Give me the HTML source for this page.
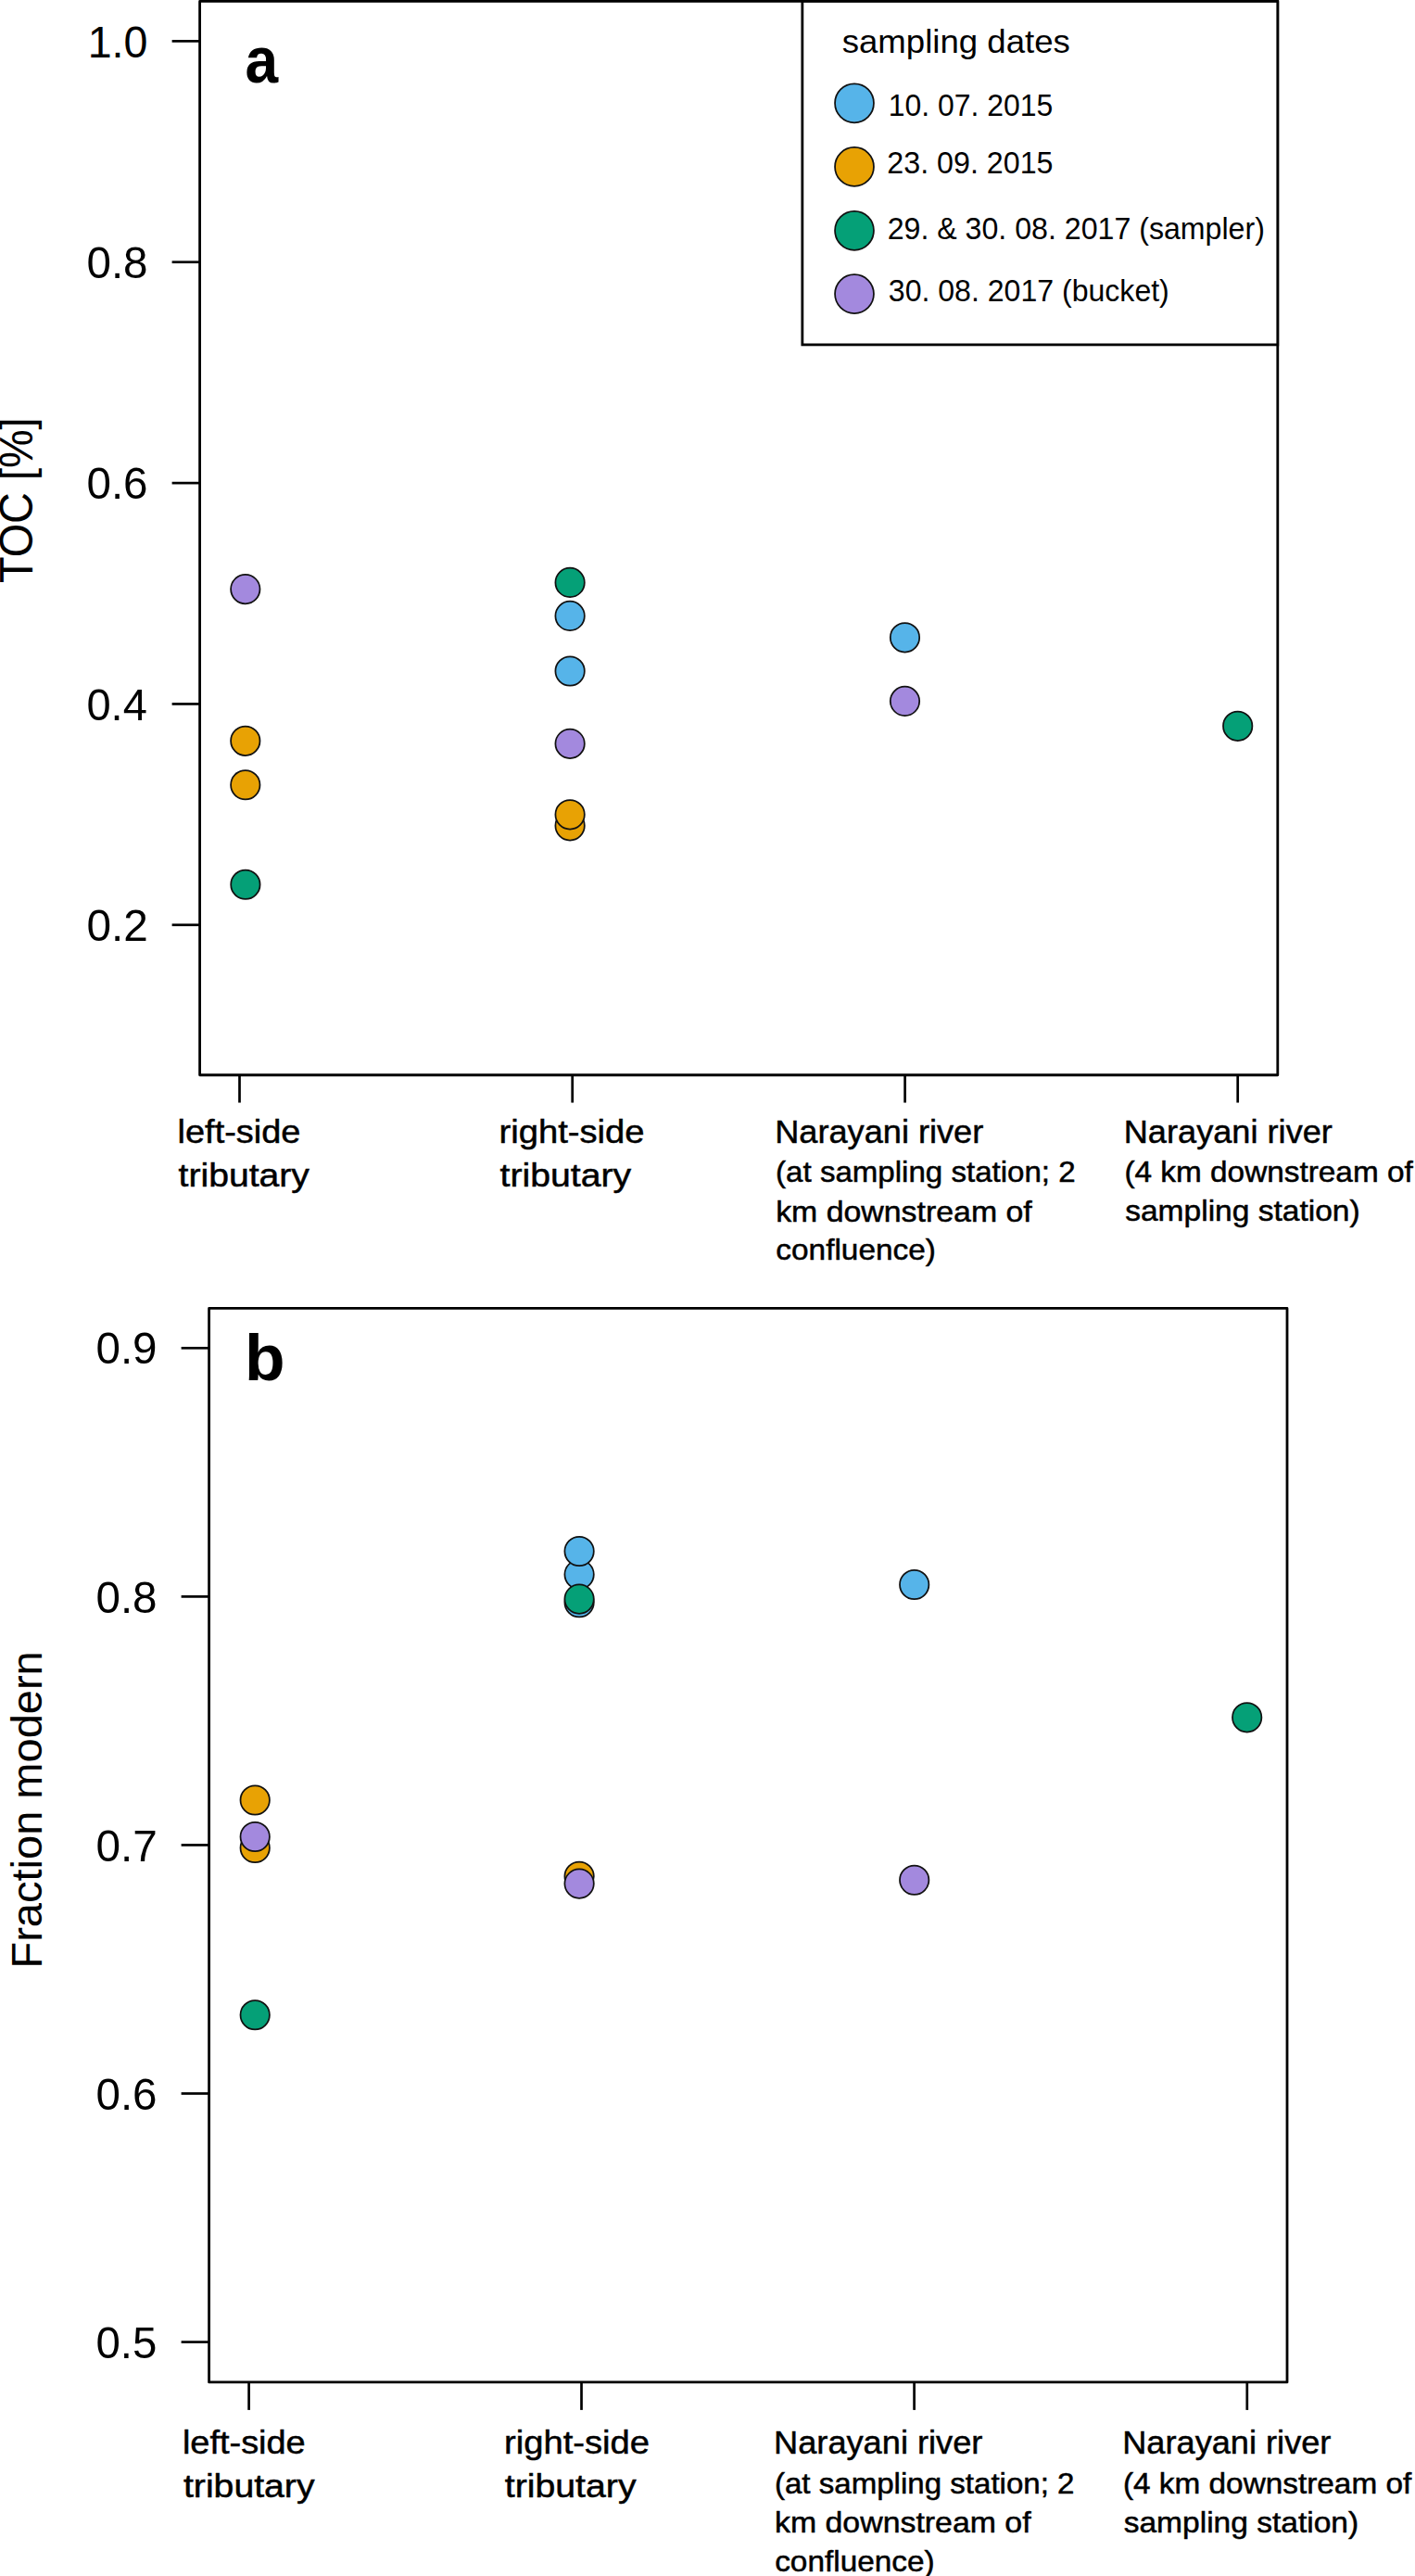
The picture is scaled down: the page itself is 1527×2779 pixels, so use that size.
<!DOCTYPE html>
<html><head><meta charset="utf-8"><title>figure</title>
<style>
html,body{margin:0;padding:0;background:#fff;overflow:hidden;}
svg{display:block;font-family:"Liberation Sans",sans-serif;fill:#000;}
</style></head><body>
<svg width="1527" height="2779" viewBox="0 0 1527 2779">
<rect x="0" y="0" width="1527" height="2779" fill="#fff"/>
<rect x="215.6" y="1.45" width="1163.20" height="1158.30" fill="none" stroke="#000" stroke-width="2.8" stroke-linejoin="round"/>
<line x1="185.60" y1="44.40" x2="215.60" y2="44.40" stroke="#000" stroke-width="2.7"/>
<text x="94.65" y="61.50" font-size="49" textLength="64.70" lengthAdjust="spacingAndGlyphs">1.0</text>
<line x1="185.60" y1="282.75" x2="215.60" y2="282.75" stroke="#000" stroke-width="2.7"/>
<text x="93.45" y="299.85" font-size="49" textLength="66.15" lengthAdjust="spacingAndGlyphs">0.8</text>
<line x1="185.60" y1="521.10" x2="215.60" y2="521.10" stroke="#000" stroke-width="2.7"/>
<text x="93.45" y="538.20" font-size="49" textLength="66.15" lengthAdjust="spacingAndGlyphs">0.6</text>
<line x1="185.60" y1="759.45" x2="215.60" y2="759.45" stroke="#000" stroke-width="2.7"/>
<text x="93.45" y="776.55" font-size="49" textLength="65.40" lengthAdjust="spacingAndGlyphs">0.4</text>
<line x1="185.60" y1="997.80" x2="215.60" y2="997.80" stroke="#000" stroke-width="2.7"/>
<text x="93.45" y="1014.90" font-size="49" textLength="66.40" lengthAdjust="spacingAndGlyphs">0.2</text>
<line x1="258.50" y1="1159.75" x2="258.50" y2="1189.55" stroke="#000" stroke-width="2.7"/>
<line x1="617.70" y1="1159.75" x2="617.70" y2="1189.55" stroke="#000" stroke-width="2.7"/>
<line x1="976.60" y1="1159.75" x2="976.60" y2="1189.55" stroke="#000" stroke-width="2.7"/>
<line x1="1335.70" y1="1159.75" x2="1335.70" y2="1189.55" stroke="#000" stroke-width="2.7"/>
<text x="264.45" y="88.70" font-size="70.5" font-weight="bold" textLength="35.65" lengthAdjust="spacingAndGlyphs">a</text>
<rect x="865.85" y="1.45" width="512.95" height="370.45" fill="#fff" stroke="#000" stroke-width="2.8"/>
<text x="908.70" y="57.40" font-size="35.8" textLength="246.20" lengthAdjust="spacingAndGlyphs">sampling dates</text>
<circle cx="922.00" cy="111.30" r="20.95" fill="#56B4E9" stroke="#111" stroke-width="1.75"/>
<text x="958.80" y="124.50" font-size="32.3" textLength="177.45" lengthAdjust="spacingAndGlyphs">10. 07. 2015</text>
<circle cx="922.00" cy="179.90" r="20.95" fill="#E8A204" stroke="#111" stroke-width="1.75"/>
<text x="957.35" y="186.60" font-size="32.3" textLength="179.15" lengthAdjust="spacingAndGlyphs">23. 09. 2015</text>
<circle cx="922.00" cy="248.80" r="20.95" fill="#05A077" stroke="#111" stroke-width="1.75"/>
<text x="957.70" y="258.30" font-size="32.3" textLength="407.15" lengthAdjust="spacingAndGlyphs">29. &amp; 30. 08. 2017 (sampler)</text>
<circle cx="922.00" cy="317.10" r="20.95" fill="#A389DE" stroke="#111" stroke-width="1.75"/>
<text x="958.80" y="325.30" font-size="32.3" textLength="303.00" lengthAdjust="spacingAndGlyphs">30. 08. 2017 (bucket)</text>
<circle cx="264.90" cy="954.20" r="15.7" fill="#05A077" stroke="#111" stroke-width="1.75"/>
<circle cx="264.80" cy="846.70" r="15.7" fill="#E8A204" stroke="#111" stroke-width="1.75"/>
<circle cx="264.80" cy="799.30" r="15.7" fill="#E8A204" stroke="#111" stroke-width="1.75"/>
<circle cx="264.80" cy="635.60" r="15.7" fill="#A389DE" stroke="#111" stroke-width="1.75"/>
<circle cx="615.10" cy="890.80" r="15.7" fill="#E8A204" stroke="#111" stroke-width="1.75"/>
<circle cx="615.10" cy="878.80" r="15.7" fill="#E8A204" stroke="#111" stroke-width="1.75"/>
<circle cx="615.10" cy="802.35" r="15.7" fill="#A389DE" stroke="#111" stroke-width="1.75"/>
<circle cx="615.10" cy="724.00" r="15.7" fill="#56B4E9" stroke="#111" stroke-width="1.75"/>
<circle cx="615.10" cy="664.40" r="15.7" fill="#56B4E9" stroke="#111" stroke-width="1.75"/>
<circle cx="615.10" cy="628.40" r="15.7" fill="#05A077" stroke="#111" stroke-width="1.75"/>
<circle cx="976.50" cy="687.80" r="15.7" fill="#56B4E9" stroke="#111" stroke-width="1.75"/>
<circle cx="976.50" cy="756.40" r="15.7" fill="#A389DE" stroke="#111" stroke-width="1.75"/>
<circle cx="1335.70" cy="783.30" r="15.7" fill="#05A077" stroke="#111" stroke-width="1.75"/>
<text transform="translate(34.8,629.00) rotate(-90)" font-size="49.2" textLength="178.50" lengthAdjust="spacingAndGlyphs">TOC [%]</text>
<text x="191.60" y="1233.10" font-size="35.5" textLength="132.75" lengthAdjust="spacingAndGlyphs" stroke="#000" stroke-width="0.5">left-side</text>
<text x="192.60" y="1280.00" font-size="35.5" textLength="141.35" lengthAdjust="spacingAndGlyphs" stroke="#000" stroke-width="0.5">tributary</text>
<text x="538.60" y="1233.10" font-size="35.5" textLength="156.95" lengthAdjust="spacingAndGlyphs" stroke="#000" stroke-width="0.5">right-side</text>
<text x="539.60" y="1280.00" font-size="35.5" textLength="141.50" lengthAdjust="spacingAndGlyphs" stroke="#000" stroke-width="0.5">tributary</text>
<text x="836.25" y="1233.10" font-size="35.5" textLength="225.00" lengthAdjust="spacingAndGlyphs" stroke="#000" stroke-width="0.5">Narayani river</text>
<text x="837.10" y="1275.40" font-size="31.6" textLength="323.55" lengthAdjust="spacingAndGlyphs" stroke="#000" stroke-width="0.5">(at sampling station; 2</text>
<text x="837.15" y="1317.50" font-size="31.6" textLength="276.60" lengthAdjust="spacingAndGlyphs" stroke="#000" stroke-width="0.5">km downstream of</text>
<text x="837.35" y="1359.30" font-size="31.6" textLength="172.50" lengthAdjust="spacingAndGlyphs" stroke="#000" stroke-width="0.5">confluence)</text>
<text x="1212.75" y="1233.10" font-size="35.5" textLength="225.15" lengthAdjust="spacingAndGlyphs" stroke="#000" stroke-width="0.5">Narayani river</text>
<text x="1213.45" y="1275.20" font-size="31.6" textLength="311.30" lengthAdjust="spacingAndGlyphs" stroke="#000" stroke-width="0.5">(4 km downstream of</text>
<text x="1214.20" y="1317.20" font-size="31.6" textLength="253.50" lengthAdjust="spacingAndGlyphs" stroke="#000" stroke-width="0.5">sampling station)</text>
<rect x="225.6" y="1411.4" width="1163.40" height="1158.50" fill="none" stroke="#000" stroke-width="2.8" stroke-linejoin="round"/>
<line x1="195.60" y1="1454.30" x2="225.60" y2="1454.30" stroke="#000" stroke-width="2.7"/>
<text x="103.45" y="1471.40" font-size="49" textLength="66.15" lengthAdjust="spacingAndGlyphs">0.9</text>
<line x1="195.60" y1="1722.40" x2="225.60" y2="1722.40" stroke="#000" stroke-width="2.7"/>
<text x="103.45" y="1739.50" font-size="49" textLength="66.15" lengthAdjust="spacingAndGlyphs">0.8</text>
<line x1="195.60" y1="1990.45" x2="225.60" y2="1990.45" stroke="#000" stroke-width="2.7"/>
<text x="103.45" y="2007.55" font-size="49" textLength="66.40" lengthAdjust="spacingAndGlyphs">0.7</text>
<line x1="195.60" y1="2258.50" x2="225.60" y2="2258.50" stroke="#000" stroke-width="2.7"/>
<text x="103.45" y="2275.60" font-size="49" textLength="66.15" lengthAdjust="spacingAndGlyphs">0.6</text>
<line x1="195.60" y1="2526.60" x2="225.60" y2="2526.60" stroke="#000" stroke-width="2.7"/>
<text x="103.45" y="2543.70" font-size="49" textLength="65.90" lengthAdjust="spacingAndGlyphs">0.5</text>
<line x1="268.60" y1="2569.90" x2="268.60" y2="2599.90" stroke="#000" stroke-width="2.7"/>
<line x1="627.50" y1="2569.90" x2="627.50" y2="2599.90" stroke="#000" stroke-width="2.7"/>
<line x1="986.60" y1="2569.90" x2="986.60" y2="2599.90" stroke="#000" stroke-width="2.7"/>
<line x1="1345.80" y1="2569.90" x2="1345.80" y2="2599.90" stroke="#000" stroke-width="2.7"/>
<text x="263.90" y="1489.30" font-size="70.5" font-weight="bold" textLength="43.60" lengthAdjust="spacingAndGlyphs">b</text>
<circle cx="275.20" cy="2173.70" r="15.7" fill="#05A077" stroke="#111" stroke-width="1.75"/>
<circle cx="275.20" cy="1993.50" r="15.7" fill="#E8A204" stroke="#111" stroke-width="1.75"/>
<circle cx="275.20" cy="1942.00" r="15.7" fill="#E8A204" stroke="#111" stroke-width="1.75"/>
<circle cx="275.20" cy="1981.50" r="15.7" fill="#A389DE" stroke="#111" stroke-width="1.75"/>
<circle cx="625.10" cy="1728.70" r="15.7" fill="#56B4E9" stroke="#111" stroke-width="1.75"/>
<circle cx="625.10" cy="1698.60" r="15.7" fill="#56B4E9" stroke="#111" stroke-width="1.75"/>
<circle cx="625.10" cy="1673.50" r="15.7" fill="#56B4E9" stroke="#111" stroke-width="1.75"/>
<circle cx="625.10" cy="1725.10" r="15.7" fill="#05A077" stroke="#111" stroke-width="1.75"/>
<circle cx="625.10" cy="2024.30" r="15.7" fill="#E8A204" stroke="#111" stroke-width="1.75"/>
<circle cx="625.10" cy="2032.10" r="15.7" fill="#A389DE" stroke="#111" stroke-width="1.75"/>
<circle cx="986.70" cy="1709.50" r="15.7" fill="#56B4E9" stroke="#111" stroke-width="1.75"/>
<circle cx="986.70" cy="2028.20" r="15.7" fill="#A389DE" stroke="#111" stroke-width="1.75"/>
<circle cx="1345.70" cy="1852.80" r="15.7" fill="#05A077" stroke="#111" stroke-width="1.75"/>
<text transform="translate(44.9,2123.50) rotate(-90)" font-size="46.3" textLength="342.20" lengthAdjust="spacingAndGlyphs">Fraction modern</text>
<text x="196.95" y="2647.40" font-size="35.5" textLength="132.75" lengthAdjust="spacingAndGlyphs" stroke="#000" stroke-width="0.5">left-side</text>
<text x="197.95" y="2694.30" font-size="35.5" textLength="141.60" lengthAdjust="spacingAndGlyphs" stroke="#000" stroke-width="0.5">tributary</text>
<text x="544.05" y="2647.40" font-size="35.5" textLength="156.95" lengthAdjust="spacingAndGlyphs" stroke="#000" stroke-width="0.5">right-side</text>
<text x="544.80" y="2694.30" font-size="35.5" textLength="141.75" lengthAdjust="spacingAndGlyphs" stroke="#000" stroke-width="0.5">tributary</text>
<text x="835.10" y="2647.40" font-size="35.5" textLength="225.25" lengthAdjust="spacingAndGlyphs" stroke="#000" stroke-width="0.5">Narayani river</text>
<text x="835.95" y="2689.70" font-size="31.6" textLength="323.55" lengthAdjust="spacingAndGlyphs" stroke="#000" stroke-width="0.5">(at sampling station; 2</text>
<text x="836.00" y="2731.80" font-size="31.6" textLength="276.60" lengthAdjust="spacingAndGlyphs" stroke="#000" stroke-width="0.5">km downstream of</text>
<text x="836.20" y="2773.60" font-size="31.6" textLength="172.50" lengthAdjust="spacingAndGlyphs" stroke="#000" stroke-width="0.5">confluence)</text>
<text x="1211.25" y="2647.40" font-size="35.5" textLength="225.15" lengthAdjust="spacingAndGlyphs" stroke="#000" stroke-width="0.5">Narayani river</text>
<text x="1211.95" y="2689.50" font-size="31.6" textLength="311.30" lengthAdjust="spacingAndGlyphs" stroke="#000" stroke-width="0.5">(4 km downstream of</text>
<text x="1212.70" y="2731.50" font-size="31.6" textLength="253.50" lengthAdjust="spacingAndGlyphs" stroke="#000" stroke-width="0.5">sampling station)</text>
</svg>
</body></html>
